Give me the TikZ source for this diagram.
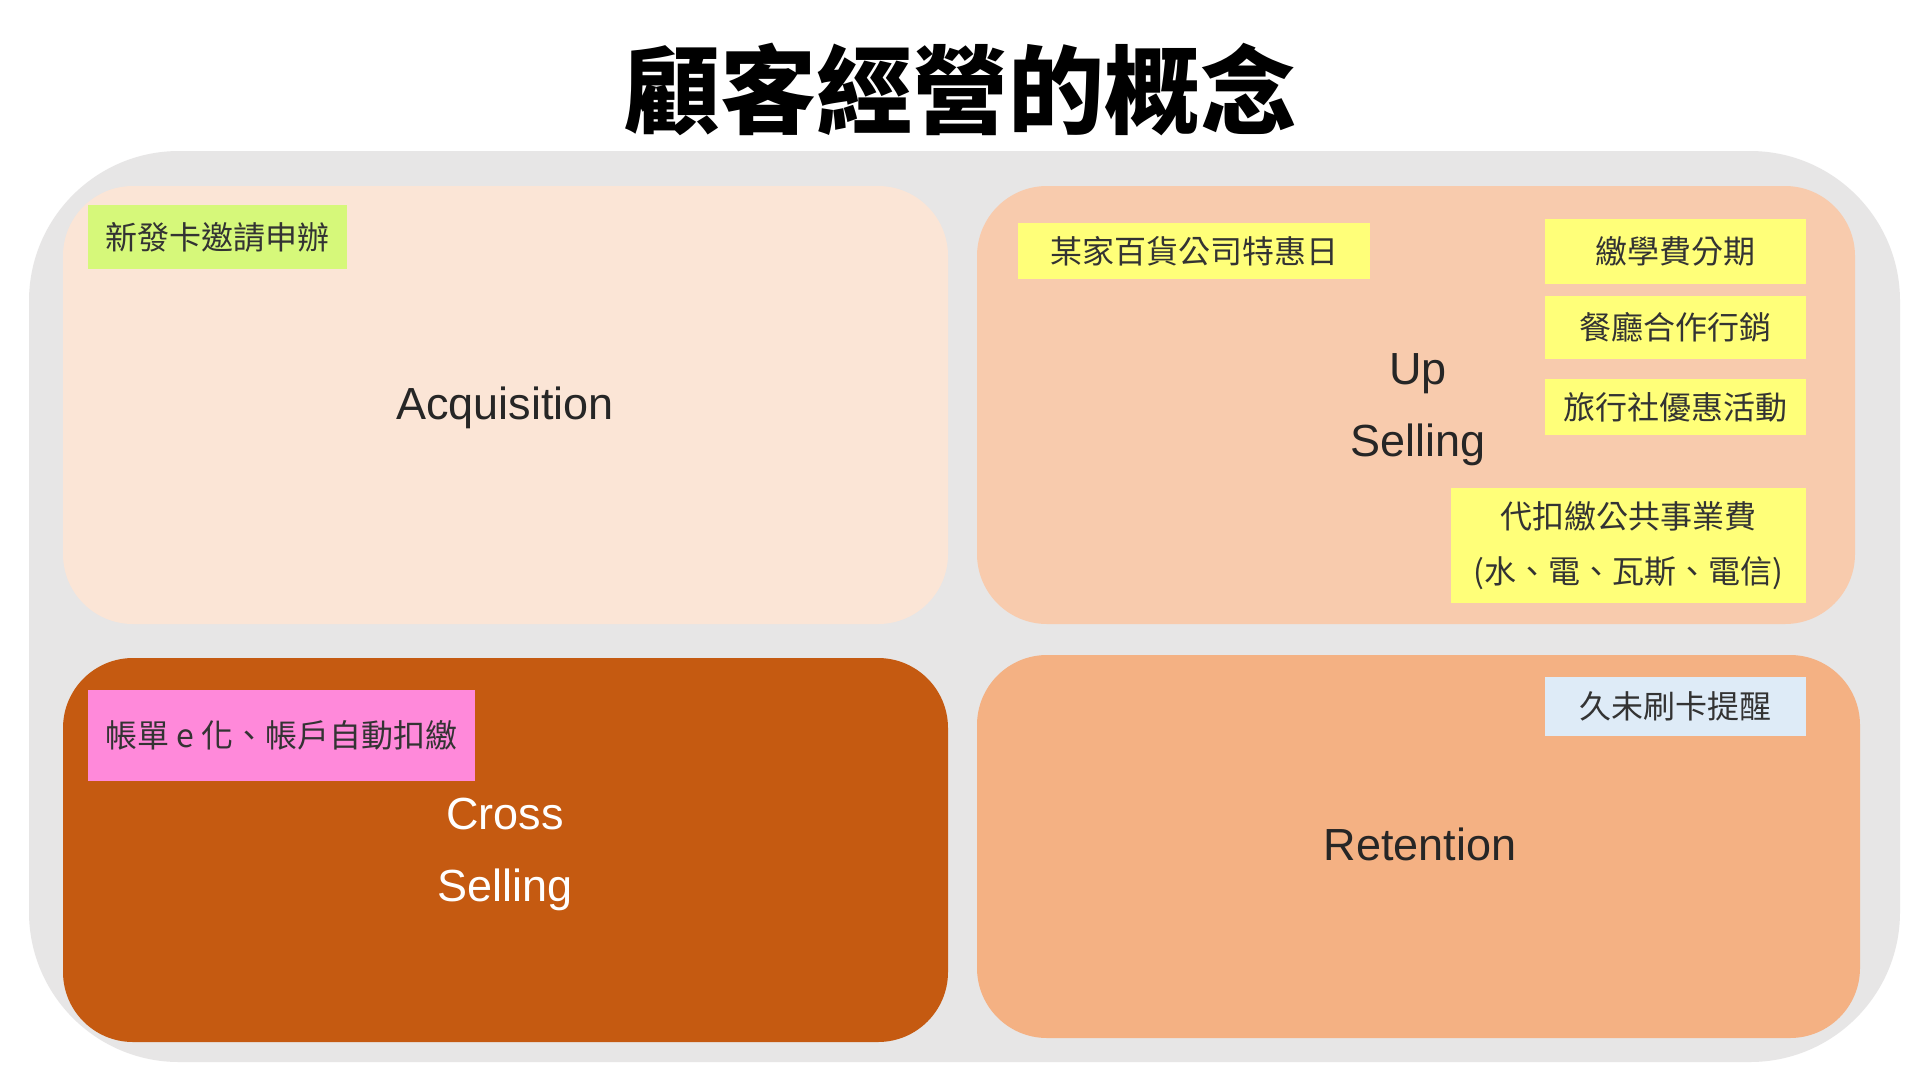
\documentclass[tikz,border=0pt]{standalone}
\usepackage{fontspec}
\setmainfont{Liberation Sans}
\newfontfamily\cjk{Noto Sans CJK TC}
\definecolor{bggray}{HTML}{E7E6E6}
\definecolor{acqc}{HTML}{FBE5D6}
\definecolor{upc}{HTML}{F8CBAD}
\definecolor{crossc}{HTML}{C55A11}
\definecolor{retc}{HTML}{F4B183}
\definecolor{yel}{HTML}{FFFF79}
\definecolor{grn}{HTML}{D6F87A}
\definecolor{pnk}{HTML}{FF89DA}
\definecolor{lblue}{HTML}{DEEBF7}
\definecolor{txt}{HTML}{262626}
\definecolor{tagtxt}{HTML}{333333}
\tikzset{
  panel/.style={rounded corners=70pt, inner sep=0pt, draw=none},
  tag/.style={inner sep=0pt, font=\cjk\fontsize{32}{55}\selectfont, text=tagtxt, align=center},
  bigtxt/.style={inner sep=0pt, font=\fontsize{45}{72}\selectfont, text=txt, align=center, anchor=north},
}
\begin{document}
\begin{tikzpicture}[x=1pt,y=-1pt]
\useasboundingbox (0,0) rectangle (1920,1080);
\fill[white] (0,0) rectangle (1920,1080);
% title
\node[inner sep=0pt, font=\cjk\bfseries\fontsize{96}{100}\selectfont, text=black] (title) at (960,89) {顧客經營的概念};
% background
\node[draw=none, fill=bggray, rounded corners=150pt, minimum width=1871pt, minimum height=911pt, inner sep=0pt] (bg) at (964.5,606.5) {};
% panels
\node[panel, fill=acqc, minimum width=885pt, minimum height=438pt] (acq) at (505.5,405) {};
\node[panel, fill=upc, minimum width=878pt, minimum height=438pt] (up) at (1416,405) {};
\node[panel, fill=crossc, minimum width=885pt, minimum height=384pt] (cross) at (505.5,850) {};
\node[panel, fill=retc, minimum width=883pt, minimum height=383pt] (ret) at (1418.5,846.5) {};
% main labels
\node[bigtxt] (acqt) at (505,387) {Acquisition};
\node[bigtxt] (upt) at (1418,353) {Up\\Selling};
\node[bigtxt, text=white] (crosst) at (505,798) {Cross\\Selling};
\node[bigtxt] (rett) at (1420,828) {Retention};
% tags
\node[tag, fill=grn, minimum width=259pt, minimum height=64pt] (t1) at (217.5,237) {新發卡邀請申辦};
\node[tag, fill=yel, minimum width=352pt, minimum height=56pt] (t2) at (1194,251) {某家百貨公司特惠日};
\node[tag, fill=yel, minimum width=261pt, minimum height=65pt] (t3) at (1675.5,251.5) {繳學費分期};
\node[tag, fill=yel, minimum width=261pt, minimum height=63pt] (t4) at (1675.5,327.5) {餐廳合作行銷};
\node[tag, fill=yel, minimum width=261pt, minimum height=56pt] (t5) at (1675.5,407) {旅行社優惠活動};
\node[tag, fill=yel, minimum width=355pt, minimum height=115pt] (t6) at (1628.5,545.5) {代扣繳公共事業費\\(水、電、瓦斯、電信)};
\node[tag, fill=pnk, minimum width=387pt, minimum height=91pt] (t7) at (281.5,735.5) {帳單 e 化、帳戶自動扣繳};
\node[tag, fill=lblue, minimum width=261pt, minimum height=59pt] (t8) at (1675.5,706.5) {久未刷卡提醒};
\end{tikzpicture}
\end{document}
